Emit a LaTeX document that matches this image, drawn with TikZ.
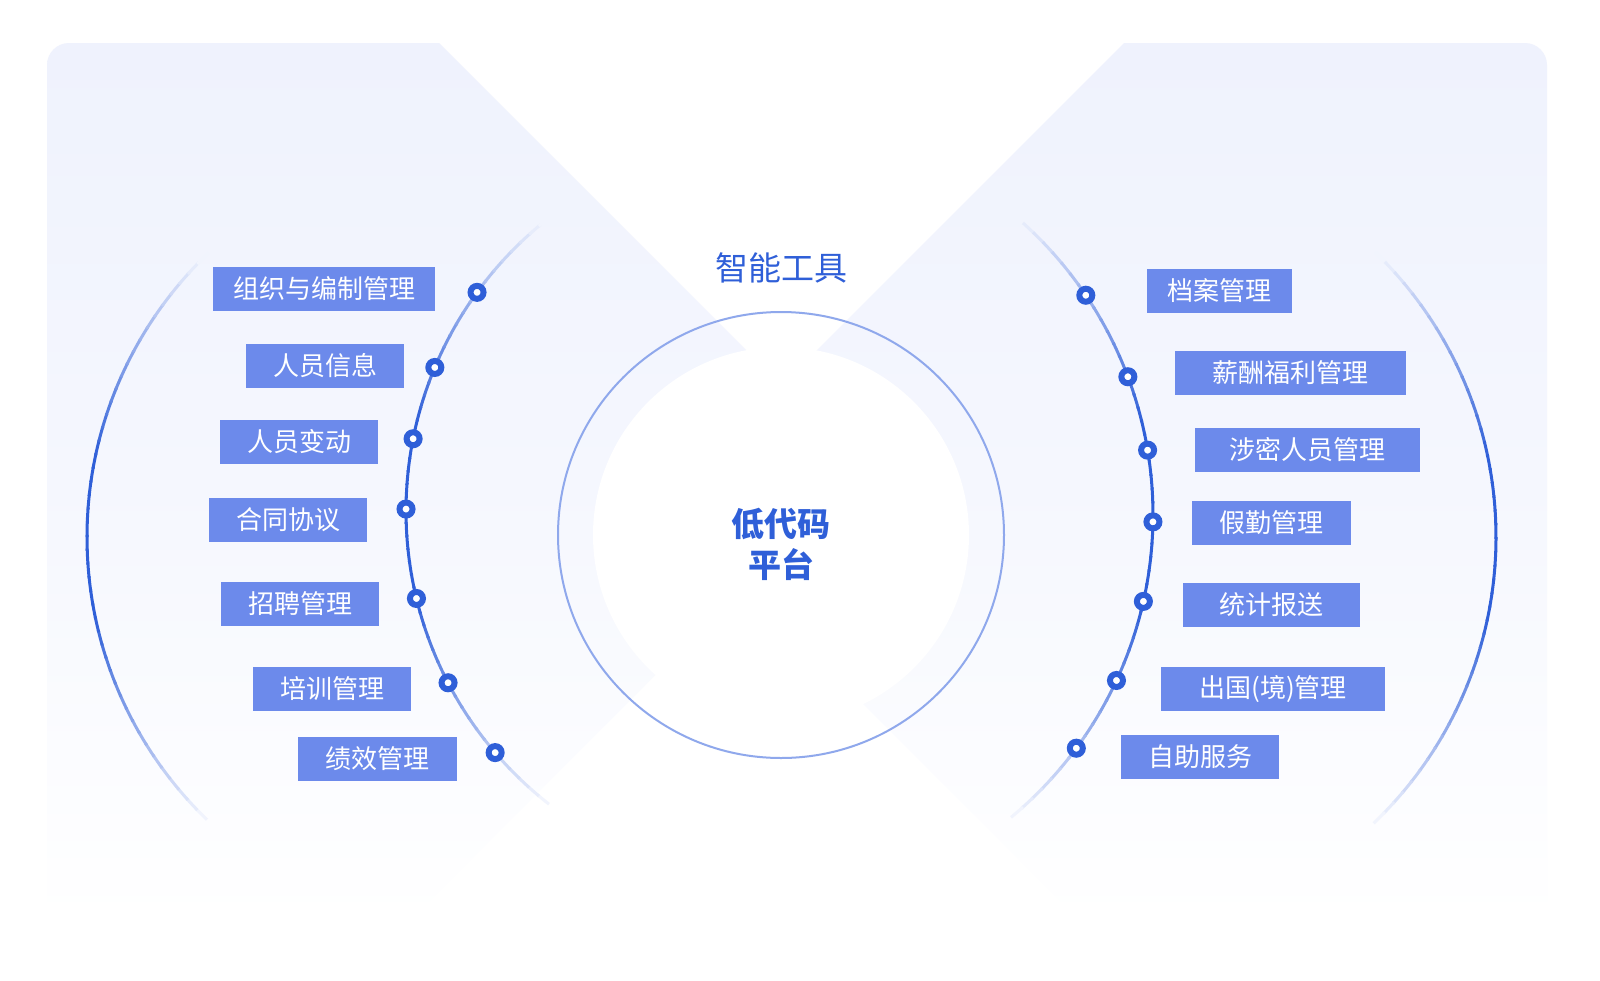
\documentclass[tikz,border=0pt]{standalone}
\usepackage{fontspec}
\newfontfamily\cjk{Noto Sans CJK SC}
\definecolor{tagblue}{HTML}{6C8AEB}
\definecolor{deepblue}{HTML}{2F5FD8}
\definecolor{ringblue}{HTML}{8FA8EC}
\definecolor{panelhi}{HTML}{EFF2FD}
\definecolor{panelmid}{HTML}{F5F7FE}
\usetikzlibrary{calc}

\begin{document}
\begin{tikzpicture}[x=1pt, y=-1pt,
  tag/.style={fill=tagblue, text=white, minimum height=44pt, inner sep=0pt,
              font=\cjk\fontsize{26pt}{26pt}\selectfont},
  dot/.style={circle, draw=deepblue, fill=white, line width=6pt,
              minimum size=13pt, inner sep=0pt},
  arcline/.style={line width=3pt},
]
\useasboundingbox (0,0) rectangle (1600,980);
\fill[white] (0,0) rectangle (1600,980);

% background panels
\shade[top color=panelhi, bottom color=white, middle color=panelmid]
  (47,923) -- (47,65) arc[start angle=180, end angle=270, radius=22]
  -- (439,43) -- (863,467) -- (408,923) -- cycle;
\shade[top color=panelhi, bottom color=white, middle color=panelmid]
  (1547,923) -- (1547,65) arc[start angle=0, end angle=-90, radius=22]
  -- (1124,43) -- (663,504) -- (1082,923) -- cycle;

% centre
\coordinate (hub) at (781,535);
\fill[white] (hub) circle (188);
\draw[ringblue, line width=2pt] (hub) circle (223);

\node[font=\cjk\fontsize{33pt}{33pt}\selectfont, text=deepblue] (tools) at (781,268) {智能工具};
\node[font=\cjk\bfseries\fontsize{33pt}{41pt}\selectfont, text=deepblue, align=center] (core) at (781,544) {低代码\\平台};

% arcs
\coordinate (lc) at (778,511);
\coordinate (rc) at (760,515);
\coordinate (lo) at (480,537);
\coordinate (ro) at (1100,537);

\foreach \a in {128,130,...,230}{
  \pgfmathtruncatemacro\p{100*max(0,min(1,(52-abs(\a+1-180))/38))}
  \draw[arcline, deepblue!\p!panelmid] ($(lc)+(\a:372)$) arc[start angle=\a, delta angle=2.3, radius=372];
}
\foreach \a in {-50,-48,...,48}{
  \pgfmathtruncatemacro\p{100*max(0,min(1,(50-abs(\a+1))/36))}
  \draw[arcline, deepblue!\p!panelmid] ($(rc)+(\a:393)$) arc[start angle=\a, delta angle=2.3, radius=393];
}
\foreach \a in {134,136,...,224}{
  \pgfmathtruncatemacro\p{100*max(0,min(1,(46-abs(\a+1-180))/34))}
  \draw[arcline, deepblue!\p!panelmid] ($(lo)+(\a:393)$) arc[start angle=\a, delta angle=2.3, radius=393];
}
\foreach \a in {-46,-44,...,44}{
  \pgfmathtruncatemacro\p{100*max(0,min(1,(46-abs(\a+1))/34))}
  \draw[arcline, deepblue!\p!panelmid] ($(ro)+(\a:396)$) arc[start angle=\a, delta angle=2.3, radius=396];
}

% dots on the inner arcs
\foreach \ang [count=\i] in {216,202.7,191.2,180.3,166.4,152.5,139.5}
  \node[dot] (ld\i) at ($(lc)+(\ang:372)$) {};
\foreach \ang [count=\i] in {-34,-20.6,-9.5,1,12.7,24.9,36.4}
  \node[dot] (rd\i) at ($(rc)+(\ang:393)$) {};

% left tags
\node[tag, minimum width=222pt] (l1) at (324,289) {组织与编制管理};
\node[tag, minimum width=158pt] (l2) at (325,366) {人员信息};
\node[tag, minimum width=158pt] (l3) at (299,442) {人员变动};
\node[tag, minimum width=158pt] (l4) at (288,519.5) {合同协议};
\node[tag, minimum width=158pt] (l5) at (300,604) {招聘管理};
\node[tag, minimum width=158pt] (l6) at (332,689) {培训管理};
\node[tag, minimum width=159pt] (l7) at (377.5,758.5) {绩效管理};

% right tags
\node[tag, minimum width=145pt] (r1) at (1219.5,290.5) {档案管理};
\node[tag, minimum width=231pt] (r2) at (1290,373) {薪酬福利管理};
\node[tag, minimum width=225pt] (r3) at (1307.5,449.5) {涉密人员管理};
\node[tag, minimum width=159pt] (r4) at (1271.5,523) {假勤管理};
\node[tag, minimum width=177pt] (r5) at (1271.5,605) {统计报送};
\node[tag, minimum width=224pt] (r6) at (1273,689) {出国(境)管理};
\node[tag, minimum width=158pt] (r7) at (1200,756.5) {自助服务};

\end{tikzpicture}
\end{document}
